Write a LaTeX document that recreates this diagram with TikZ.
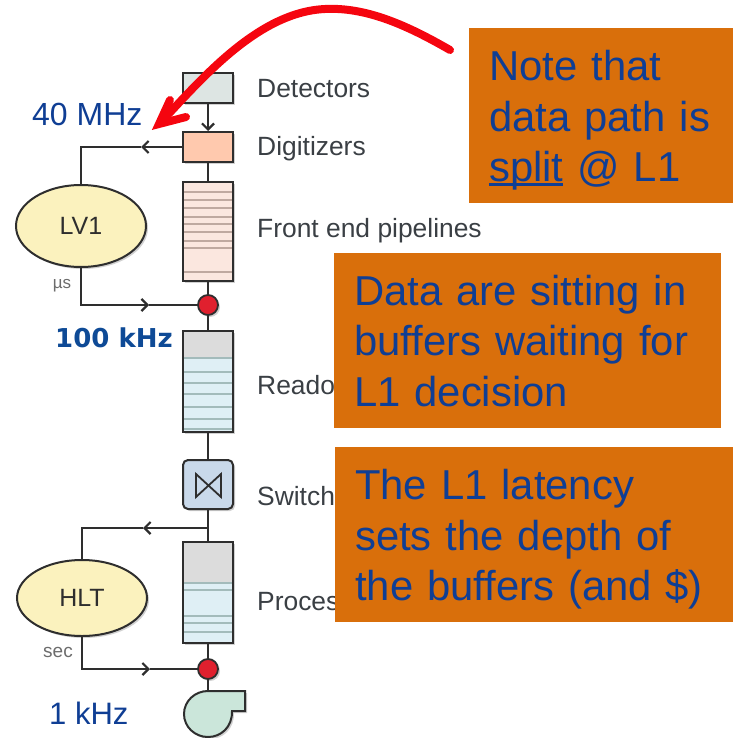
\documentclass[tikz,border=0pt]{standalone}
\usepackage{fontspec}
\setmainfont{Liberation Sans}
\newfontfamily\heavyfont{DejaVu Sans}
\usetikzlibrary{shapes.geometric,arrows.meta,shadows}
\definecolor{ink}{HTML}{2E2E2E}
\definecolor{labelgrey}{HTML}{3A3F44}
\definecolor{noteorange}{HTML}{D96F0B}
\definecolor{noteblue}{HTML}{0F3E94}
\definecolor{softshadow}{HTML}{999999}
\definecolor{triggerfill}{HTML}{FBF2BE}
\definecolor{vetored}{HTML}{E0202E}
\definecolor{rungcol}{HTML}{A3BBBB}
\definecolor{ferung}{HTML}{BFA9A0}
\definecolor{arrowred}{HTML}{F5050F}
\definecolor{detfill}{HTML}{DDE5E3}
\definecolor{digfill}{HTML}{FFC9AE}
\definecolor{fefill}{HTML}{FBE7DF}
\definecolor{bufblue}{HTML}{DFEFF5}
\definecolor{swfill}{HTML}{C9D9EA}
\definecolor{topgrey}{HTML}{DCDCDC}
\definecolor{pumpfill}{HTML}{CBE6DA}
\definecolor{ratebold}{HTML}{0E4A96}
\tikzset{
  softdrop/.style={drop shadow={shadow xshift=2pt,shadow yshift=-2pt,opacity=.45,fill=softshadow}},
  unitbox/.style={draw=ink,line width=2pt,inner sep=0pt,minimum width=50pt,softdrop},
  trigger/.style={ellipse,draw=ink,line width=2pt,fill=triggerfill,inner sep=0pt,minimum width=130pt,text=ink,font=\fontsize{25}{25}\selectfont,softdrop},
  veto/.style={circle,draw=ink,line width=1.8pt,fill=vetored,inner sep=0pt,minimum size=20pt,softdrop},
  wire/.style={draw=ink,line width=1.8pt},
  flow/.style={wire,-{Straight Barb[length=6pt,width=12pt,line width=2.2pt]}},
  stepname/.style={anchor=base west,inner sep=0pt,text=labelgrey,font=\fontsize{26.4}{26.4}\selectfont},
  rate/.style={anchor=base west,inner sep=0pt,text=noteblue,font=\fontsize{32}{32}\selectfont},
  small/.style={anchor=base,inner sep=0pt,text=gray!85!black},
  note/.style={fill=noteorange,text=noteblue,inner sep=0pt,inner xsep=20pt,align=left,font=\fontsize{41.8}{50.5}\selectfont},
  rung/.style={line width=1.2pt,draw=rungcol},
  redarrow/.style={draw=arrowred,line width=8pt}
}
\newcommand{\lowered}{\rule{0pt}{39.6pt}}
\newcommand{\thickunder}[1]{\makebox[0pt][l]{\rule[-4pt]{74pt}{2.5pt}}#1}
\begin{document}
\begin{tikzpicture}[x=1pt,y=-1pt]
\useasboundingbox (0,0) rectangle (733,738);

% stacked units
\node[unitbox,fill=detfill,minimum height=30pt] (det) at (208,88) {};
\node[unitbox,fill=digfill,minimum height=30pt] (dig) at (208,147) {};
\node[unitbox,fill=fefill,minimum height=99pt] (fe) at (208,231.5) {};
\node[unitbox,fill=bufblue,minimum height=101pt] (ro) at (208,381.5) {};
\node[unitbox,fill=swfill,rounded corners=5pt,minimum height=49pt] (sw) at (208,484.5) {};
\node[unitbox,fill=bufblue,minimum height=101pt] (pr) at (208,592.5) {};

% interior of the stacks
\fill[topgrey] (184,332) rectangle (232,358);
\fill[topgrey] (184,543) rectangle (232,582);
\foreach \yy in {192,200,208,217,224,232,241,248,272}
  \draw[rung,draw=ferung] (184,\yy) -- (232,\yy);
\foreach \yy in {358,372,383,394,407,419,429}
  \draw[rung] (184,\yy) -- (232,\yy);
\foreach \yy in {583,590,616,623,632}
  \draw[rung] (184,\yy) -- (232,\yy);
\draw[wire,line join=miter] (196,474) -- (221,497) -- (221,474) -- (196,497) -- cycle;

% triggers and decision points
\node[trigger,minimum height=82pt] (lv) at (81,226) {LV1};
\node[trigger,minimum height=76pt] (hlt) at (82,598) {HLT};
\node[veto] (v1) at (208,305) {};
\node[veto] (v2) at (208,669) {};

% pump
\coordinate (pump) at (208,691);
\draw[draw=ink,line width=2pt,fill=pumpfill,softdrop]
  (208,691) -- (245,691) -- (245,711) -- (232,711)
  .. controls (232.5,727) and (221,737) .. (208,737)
  .. controls (195,737) and (184,727) .. (184,714)
  .. controls (184,701) and (195,691) .. (208,691) -- cycle;

% connectors
\draw[flow] (det) -- (dig);
\draw[wire] (dig) -- (fe);
\draw[wire] (fe) -- (v1);
\draw[wire] (v1) -- (ro);
\draw[wire] (ro) -- (sw);
\draw[wire] (sw) -- (pr);
\draw[wire] (pr) -- (v2);
\draw[wire] (v2) -- (pump);
\coordinate (a1) at (141,147);
\coordinate (a2) at (149,305);
\coordinate (a3) at (143,528);
\coordinate (a4) at (150,669);
\coordinate (tap) at (208,528);
\draw[flow] (dig) -- (a1);
\draw[wire] (a1) -| (lv);
\draw[flow] (lv) |- (a2);
\draw[wire] (a2) -- (v1);
\draw[flow] (tap) -- (a3);
\draw[wire] (a3) -| (hlt);
\draw[flow] (hlt) |- (a4);
\draw[wire] (a4) -- (v2);

% labels
\node[stepname] (l1) at (257,98) {Detectors};
\node[stepname] (l2) at (257,156) {Digitizers};
\node[stepname] (l3) at (257,237) {Front end pipelines};
\node[stepname] (l4) at (257,394) {Reado};
\node[stepname] (l5) at (257,505) {Switch};
\node[stepname] (l6) at (257,610) {Proces};
\node[small,font=\fontsize{17}{17}\selectfont] (mu) at (62,288) {µs};
\node[small,font=\fontsize{19}{19}\selectfont] (sec) at (58,657) {sec};
\node[rate] (r1) at (32,126) {40 MHz};
\node[rate,font=\fontsize{31}{31}\selectfont] (r2) at (49,724) {1 kHz};
\node[anchor=base west,inner sep=0pt,text=ratebold,font=\heavyfont\bfseries\fontsize{26}{26}\selectfont] (r3) at (55,347) {100 kHz};

% note boxes
\node[note,anchor=north west,minimum height=175pt,minimum width=264pt,text width=224pt] (n1) at (469,28)
  {\lowered Note that\\data path is\\\thickunder{split} @ L1};
\node[note,anchor=north west,minimum height=175pt,minimum width=387pt,text width=347pt] (n2) at (334,253)
  {Data are sitting in\\buffers waiting for\\L1 decision};
\node[note,anchor=north west,minimum height=175pt,minimum width=398pt,text width=358pt] (n3) at (335,447)
  {\lowered The L1 latency\\sets the depth of\\the buffers (and \$)};

% red arrow
\coordinate (redstart) at (450,50);
\coordinate (redtip) at (159,124);
\draw[redarrow,line cap=round] (redstart)
  .. controls (405,24) and (365,7) .. (325,9)
  .. controls (260,12) and (205,75) .. (163,120);
\draw[redarrow,line cap=round,line join=miter,miter limit=10] (170,100) -- (redtip) -- (186,117);
\end{tikzpicture}
\end{document}
